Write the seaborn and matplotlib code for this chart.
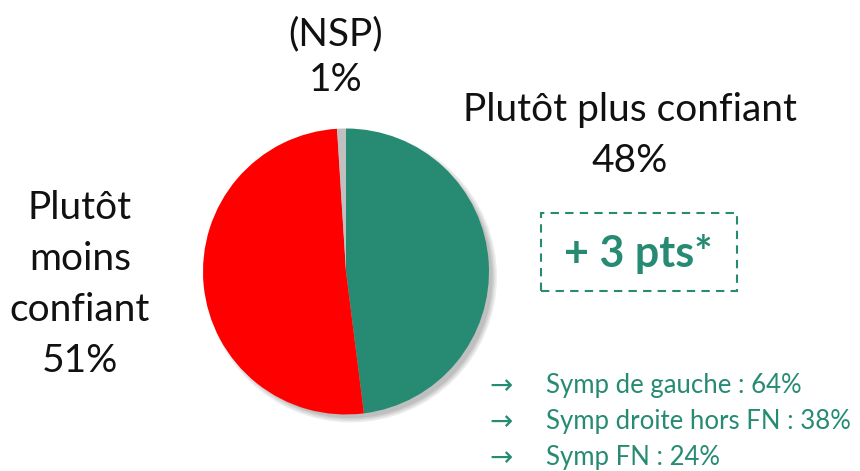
import matplotlib
matplotlib.use("Agg")
import matplotlib.pyplot as plt
import seaborn as sns
from matplotlib.patches import Circle, Rectangle

sns.set_theme(style="white")
plt.rcParams['font.family'] = ['Lato', 'DejaVu Sans']

# Data
labels = ["Plutôt plus confiant", "Plutôt moins confiant", "(NSP)"]
values = [48, 51, 1]
colors = ["#268B72", "#FF0000", "#C0C0C0"]
sub_labels = ["Symp de gauche : 64%", "Symp droite hors FN : 38%", "Symp FN : 24%"]
evolution = "+ 3 pts*"

W, H = 860, 471
fig = plt.figure(figsize=(W / 100, H / 100), dpi=100)
ax = fig.add_axes([0, 0, 1, 1])

def Y(y):
    return H - y

cx, cy, r = 346, 271.5, 143
# soft shadow
for i, a in enumerate([0.10, 0.10, 0.12, 0.14]):
    ax.add_patch(Circle((cx + 5, Y(cy) - 5), r + 3 - i * 1.5, color="#606060", alpha=a, lw=0, zorder=1))

ax.pie(values, colors=colors, startangle=90, counterclock=False, radius=r,
       center=(cx, Y(cy)), wedgeprops=dict(linewidth=0), frame=True)
ax.set_xlim(0, W)
ax.set_ylim(0, H)
ax.set_aspect('equal')
ax.axis('off')

txt = dict(color="#111111", fontsize=28, fontweight='normal', ha='center', va='center')
ax.text(336, Y(34), labels[2], **txt)
ax.text(336, Y(80), f"{values[2]}%", **txt)
ax.text(630, Y(110), labels[0], **txt)
ax.text(630, Y(161), f"{values[0]}%", **txt)
ax.text(80, Y(208), "Plutôt", **txt)
ax.text(80, Y(259), "moins", **txt)
ax.text(80, Y(310), "confiant", **txt)
ax.text(80, Y(361), f"{values[1]}%", **txt)

green = "#268B72"
ax.add_patch(Rectangle((541, Y(291)), 196, 78, fill=False, edgecolor=green,
                       lw=1.5, linestyle=(0, (4, 3)), zorder=3))
ax.text(638, Y(254), evolution, color=green, fontsize=31, fontweight='bold',
        ha='center', va='center')

for i, s in enumerate(sub_labels):
    yy = Y(386 + i * 36)
    ax.text(489, yy, "→", color=green, fontsize=20, ha='left', va='center',
            family=['DejaVu Sans'])
    ax.text(546, yy, s, color=green, fontsize=18.5, fontweight='normal', ha='left', va='center')

fig.savefig("out.png", dpi=100)
